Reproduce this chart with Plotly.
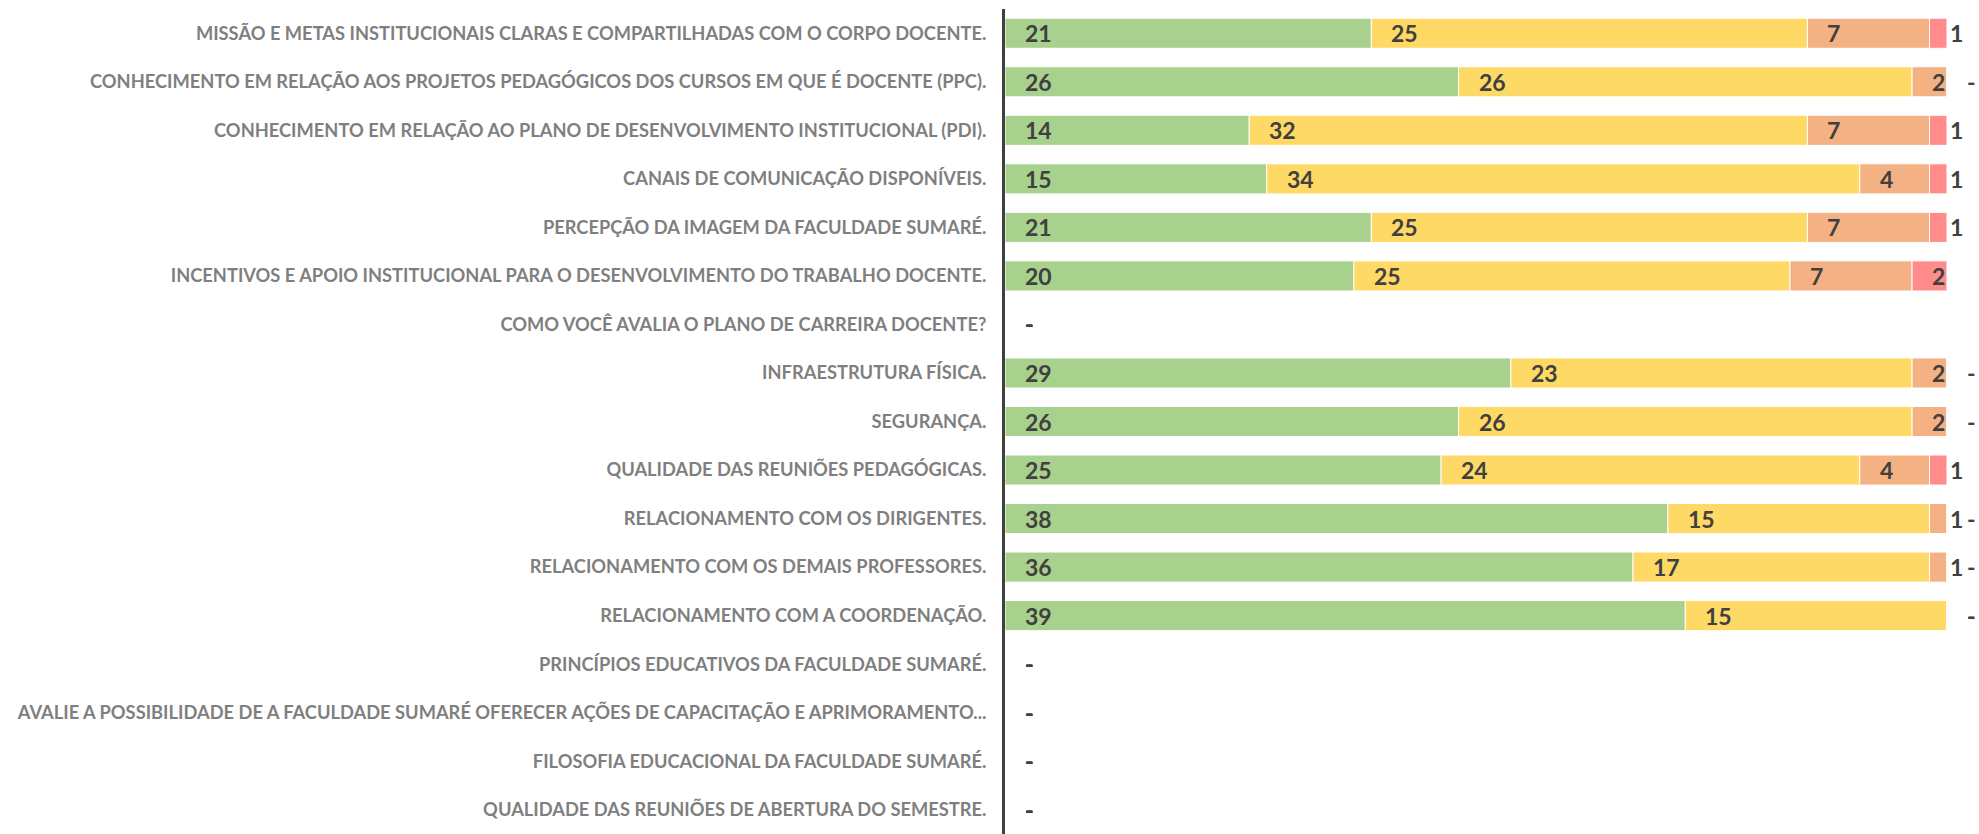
import plotly.graph_objects as go

categorias = [
    "MISSÃO E METAS INSTITUCIONAIS CLARAS E COMPARTILHADAS COM O CORPO DOCENTE.",
    "CONHECIMENTO EM RELAÇÃO AOS PROJETOS PEDAGÓGICOS DOS CURSOS EM QUE É DOCENTE (PPC).",
    "CONHECIMENTO EM RELAÇÃO AO PLANO DE DESENVOLVIMENTO INSTITUCIONAL (PDI).",
    "CANAIS DE COMUNICAÇÃO DISPONÍVEIS.",
    "PERCEPÇÃO DA IMAGEM DA FACULDADE SUMARÉ.",
    "INCENTIVOS E APOIO INSTITUCIONAL PARA O DESENVOLVIMENTO DO TRABALHO DOCENTE.",
    "COMO VOCÊ AVALIA O PLANO DE CARREIRA DOCENTE?",
    "INFRAESTRUTURA FÍSICA.",
    "SEGURANÇA.",
    "QUALIDADE DAS REUNIÕES PEDAGÓGICAS.",
    "RELACIONAMENTO COM OS DIRIGENTES.",
    "RELACIONAMENTO COM OS DEMAIS PROFESSORES.",
    "RELACIONAMENTO COM A COORDENAÇÃO.",
    "PRINCÍPIOS EDUCATIVOS DA FACULDADE SUMARÉ.",
    "AVALIE A POSSIBILIDADE DE A FACULDADE SUMARÉ OFERECER AÇÕES DE CAPACITAÇÃO E APRIMORAMENTO...",
    "FILOSOFIA EDUCACIONAL DA FACULDADE SUMARÉ.",
    "QUALIDADE DAS REUNIÕES DE ABERTURA DO SEMESTRE.",
]

otimo = [21, 26, 14, 15, 21, 20, 0, 29, 26, 25, 38, 36, 39, 0, 0, 0, 0]
bom = [25, 26, 32, 34, 25, 25, 0, 23, 26, 24, 15, 17, 15, 0, 0, 0, 0]
regular = [7, 2, 7, 4, 7, 7, 0, 2, 2, 4, 1, 1, 0, 0, 0, 0, 0]
ruim = [1, 0, 1, 1, 1, 2, 0, 0, 0, 1, 0, 0, 0, 0, 0, 0, 0]

series = [
    ("Ótimo", otimo, "#A9D18E"),
    ("Bom", bom, "#FFD966"),
    ("Regular", regular, "#F4B183"),
    ("Ruim", ruim, "#FF8B8B"),
]

FONT = "Lato, sans-serif"

fig = go.Figure()
annotations = []
base = [0] * len(categorias)
for nome, vals, cor in series:
    fig.add_trace(go.Bar(
        name=nome, y=categorias, x=vals, base=base, orientation="h",
        marker=dict(color=cor, line=dict(color="white", width=1)),
        showlegend=False, hoverinfo="x+y",
    ))
    for cat, b, v in zip(categorias, base, vals):
        annotations.append(dict(
            x=b, y=cat, xref="x", yref="y", text=str(v) if v else "-",
            showarrow=False, xanchor="left", yanchor="middle", xshift=18,
            font=dict(family=FONT, size=23, color="#404040", weight="bold"),
        ))
    base = [b + v for b, v in zip(base, vals)]

fig.update_layout(
    width=1979, height=834,
    margin=dict(l=1005, r=32, t=9, b=0, autoexpand=False),
    plot_bgcolor="white", paper_bgcolor="white",
    barmode="overlay", bargap=0.38,
    annotations=annotations,
    font=dict(family=FONT),
)
fig.update_xaxes(range=[0, 54.001], visible=False, fixedrange=True)
fig.update_yaxes(
    categoryorder="array", categoryarray=categorias, autorange="reversed",
    showline=True, linecolor="#404040", linewidth=3, showgrid=False,
    ticks="", ticklabelstandoff=12, automargin=False,
    tickfont=dict(family=FONT, size=18.3, color="#7F7F7F", weight="bold"),
)

fig.write_html(
    "out.html",
    config={"displayModeBar": False},
    post_script="document.body.style.margin='0';document.body.style.overflow='hidden';",
)
